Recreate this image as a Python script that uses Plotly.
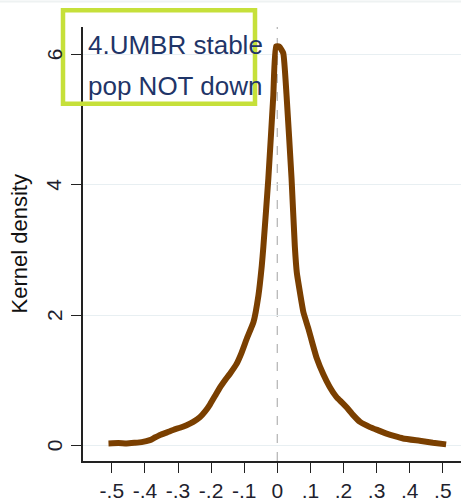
import plotly.graph_objects as go

# Kernel density curve
x_vals = [-0.51, -0.48, -0.455, -0.43, -0.41, -0.385, -0.37, -0.354, -0.333, -0.313,
          -0.294, -0.274, -0.254, -0.234, -0.218, -0.203, -0.188, -0.173, -0.158, -0.143,
          -0.123, -0.108, -0.092, -0.072, -0.057, -0.047, -0.042, -0.027, -0.012, -0.004,
          0.006, 0.018, 0.028, 0.043, 0.053, 0.059, 0.069, 0.079, 0.094, 0.107,
          0.119, 0.139, 0.158, 0.179, 0.195, 0.21, 0.23, 0.25, 0.28, 0.305,
          0.33, 0.355, 0.38, 0.43, 0.47, 0.51]
y_vals = [0.03, 0.035, 0.03, 0.04, 0.05, 0.08, 0.12, 0.16, 0.2, 0.24,
          0.27, 0.31, 0.36, 0.43, 0.52, 0.63, 0.76, 0.89, 1.0, 1.1,
          1.25, 1.42, 1.64, 1.89, 2.30, 2.75, 3.05, 4.1, 5.37, 6.12,
          6.12, 6.02, 5.37, 4.1, 3.05, 2.65, 2.33, 2.04, 1.79, 1.55,
          1.34, 1.09, 0.9, 0.74, 0.66, 0.58, 0.46, 0.36, 0.28, 0.23,
          0.18, 0.14, 0.106, 0.07, 0.04, 0.015]

x_tickvals = [-0.5, -0.4, -0.3, -0.2, -0.1, 0, 0.1, 0.2, 0.3, 0.4, 0.5]
x_ticktext = ["-.5", "-.4", "-.3", "-.2", "-.1", "0", ".1", ".2", ".3", ".4", ".5"]
y_tickvals = [0, 2, 4, 6]
y_ticktext = ["0", "2", "4", "6"]

title_lines = ["4.UMBR stable", "pop NOT down"]
y_title = "Kernel density"

FONT = "Liberation Sans, Arial, sans-serif"

fig = go.Figure()
fig.add_trace(go.Scatter(
    x=x_vals, y=y_vals, mode="lines",
    line=dict(color="#7a3f00", width=6, shape="spline", smoothing=0.4),
    showlegend=False, hoverinfo="skip",
))

annotations = [
    dict(text=y_title, xref="paper", yref="paper",
         x=(19 - 83) / 378, y=(468 - 248) / 441, textangle=-90,
         showarrow=False, xanchor="center", yanchor="middle",
         font=dict(size=22, family=FONT, color="#111")),
    dict(text=title_lines[0], xref="paper", yref="paper",
         x=(86 - 83) / 378, y=(468 - 45) / 441,
         showarrow=False, xanchor="left", yanchor="middle",
         font=dict(size=26, family=FONT, color="#1f3568")),
    dict(text=title_lines[1], xref="paper", yref="paper",
         x=(86 - 83) / 378, y=(468 - 87) / 441,
         showarrow=False, xanchor="left", yanchor="middle",
         font=dict(size=26, family=FONT, color="#1f3568")),
]
for v, t in zip(y_tickvals, y_ticktext):
    annotations.append(dict(
        text=t, xref="paper", yref="y", x=(54 - 83) / 378, y=v, textangle=-90,
        showarrow=False, xanchor="center", yanchor="middle",
        font=dict(size=21, family=FONT, color="#1f1f2e")))

fig.update_layout(
    width=461, height=502,
    margin=dict(l=83, r=0, t=27, b=34),
    paper_bgcolor="white", plot_bgcolor="white",
    font=dict(family=FONT, color="#1f1f2e"),
    xaxis=dict(
        range=[-0.587, 0.555],
        tickvals=x_tickvals, ticktext=x_ticktext,
        ticks="outside", ticklen=10, tickwidth=1.3, tickcolor="#222",
        showline=True, linecolor="#222", linewidth=1.5,
        showgrid=False, zeroline=False,
        tickfont=dict(size=21, family=FONT, color="#1f1f2e"),
    ),
    yaxis=dict(
        range=[-0.24, 6.42],
        tickvals=y_tickvals, ticktext=y_ticktext, showticklabels=False,
        ticks="outside", ticklen=10, tickwidth=1.3, tickcolor="#222",
        showline=True, linecolor="#222", linewidth=1.5,
        showgrid=True, gridcolor="#e8eff2", gridwidth=1.3,
        zeroline=False,
    ),
    shapes=[
        dict(type="line", xref="x", yref="paper", x0=0, x1=0, y0=0, y1=1,
             line=dict(color="#b8b8b8", width=1.3, dash="dash"), layer="below"),
        dict(type="line", xref="paper", yref="paper", x0=-0.22, x1=1, y0=1.059, y1=1.059,
             line=dict(color="#eef2f2", width=2)),
        dict(type="rect", xref="paper", yref="paper",
             x0=(63 - 83) / 378, x1=(255 - 83) / 378,
             y0=(468 - 105) / 441, y1=(468 - 10) / 441,
             line=dict(color="#c6e03a", width=4.5), fillcolor="rgba(0,0,0,0)", layer="above"),
    ],
    annotations=annotations,
)

fig.write_html("out.html")
